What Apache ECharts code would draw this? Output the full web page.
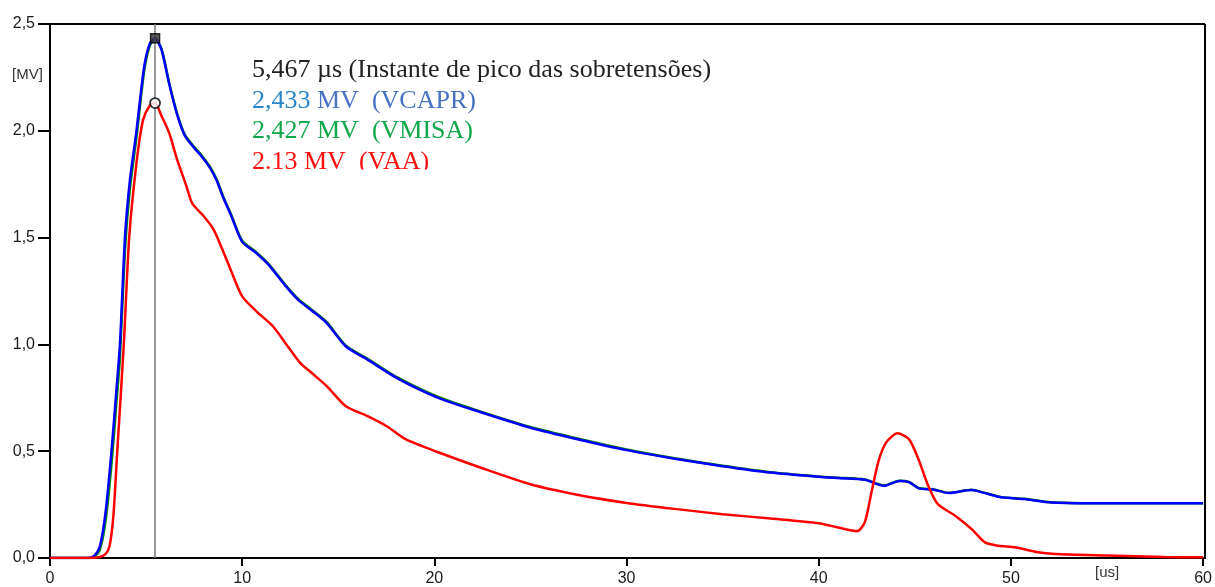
<!DOCTYPE html>
<html>
<head>
<meta charset="utf-8">
<script src="https://cdn.jsdelivr.net/npm/echarts@6/dist/echarts.min.js"></script>
<style>
  html, body { margin: 0; padding: 0; background: #fff; }
  #chart { width: 1215px; height: 587px; }
</style>
</head>
<body>
<div id="chart"></div>
<script>
// tempo [us] e tensões [MV]
const tBlue = [0, 1, 2, 2.3, 2.6, 2.9, 3.2, 3.45, 3.64, 3.9, 4.16, 4.5, 4.9, 5.2, 5.467, 5.8, 6.2, 6.6, 7.0, 7.5, 7.8, 8.3, 8.66, 9.0, 9.44, 10.0, 10.7, 11.4, 12.2, 12.9, 13.6, 14.4, 15.4, 16.5, 18.1, 20.2, 22.5, 25, 27.5, 30, 32.5, 35, 37.5, 40, 41, 42.4, 43.4, 44.2, 44.7, 45.2, 46, 46.75, 47.95, 48.6, 49.5, 50.7, 52.1, 55.2, 60]
const vCAPR = [0, 0, 0, 0.01, 0.056, 0.22, 0.5, 0.78, 1.0, 1.5, 1.77, 2.0, 2.3, 2.41, 2.433, 2.38, 2.22, 2.08, 1.98, 1.92, 1.89, 1.83, 1.77, 1.69, 1.6, 1.48, 1.43, 1.37, 1.28, 1.21, 1.16, 1.1, 0.99, 0.93, 0.84, 0.75, 0.68, 0.61, 0.555, 0.505, 0.465, 0.43, 0.4, 0.38, 0.374, 0.366, 0.338, 0.361, 0.355, 0.326, 0.32, 0.304, 0.318, 0.305, 0.284, 0.276, 0.26, 0.256, 0.256]
const vMISA = [0, 0, 0, 0.006, 0.04, 0.18, 0.44, 0.72, 0.94, 1.44, 1.73, 1.97, 2.28, 2.4, 2.427, 2.385, 2.225, 2.085, 1.985, 1.925, 1.895, 1.835, 1.775, 1.695, 1.605, 1.485, 1.434, 1.374, 1.284, 1.214, 1.164, 1.104, 0.994, 0.934, 0.844, 0.754, 0.683, 0.613, 0.558, 0.508, 0.467, 0.432, 0.402, 0.382, 0.376, 0.368, 0.34, 0.362, 0.356, 0.328, 0.321, 0.305, 0.319, 0.306, 0.285, 0.277, 0.261, 0.256, 0.256]

const tRed = [0, 1, 2, 2.6, 2.9, 3.1, 3.3, 3.5, 3.84, 4.12, 4.5, 4.84, 5.2, 5.467, 5.8, 6.2, 6.6, 7.1, 7.4, 8.0, 8.5, 8.9, 9.4, 10.0, 10.8, 11.6, 12.3, 13.0, 13.7, 14.4, 15.4, 16.5, 17.5, 18.5, 20.2, 22.5, 25, 27.5, 30, 32.5, 35, 37.5, 40, 41, 42, 42.4, 42.75, 43.1, 43.5, 44.1, 44.7, 45.2, 45.7, 46.2, 47.1, 47.95, 48.65, 49.35, 50.2, 51.4, 52.3, 55, 58, 60]
const vAA = [0, 0, 0, 0.005, 0.02, 0.056, 0.2, 0.5, 1.0, 1.5, 1.85, 2.05, 2.12, 2.13, 2.07, 1.99, 1.87, 1.74, 1.66, 1.6, 1.54, 1.46, 1.35, 1.225, 1.15, 1.085, 1.0, 0.915, 0.86, 0.805, 0.71, 0.665, 0.618, 0.556, 0.495, 0.42, 0.345, 0.295, 0.258, 0.23, 0.205, 0.185, 0.163, 0.143, 0.126, 0.168, 0.31, 0.45, 0.54, 0.584, 0.556, 0.46, 0.338, 0.252, 0.198, 0.136, 0.073, 0.057, 0.05, 0.027, 0.019, 0.012, 0.005, 0.003]

const tPico = 5.467
const picoCAPR = 2.433
const picoAA = 2.13

const pairs = (t, v) => t.map((x, i) => [x, v[i]])

const chart = echarts.init(document.getElementById('chart'))

const serif = '26px "Liberation Serif"'

const option = {
  animation: false,
  backgroundColor: '#fff',
  grid: { left: 50, right: 10, top: 24, bottom: 28 },
  xAxis: {
    type: 'value',
    min: 0,
    max: 60,
    interval: 10,
    axisLine: { show: true, onZero: false, lineStyle: { color: '#000', width: 2 } },
    axisTick: { show: true, length: 8, lineStyle: { color: '#000', width: 2 } },
    axisLabel: { color: '#1a1a1a', fontFamily: 'Liberation Sans', fontSize: 16, margin: 13 },
    splitLine: { show: false },
  },
  yAxis: {
    type: 'value',
    min: 0,
    max: 2.5,
    interval: 0.5,
    axisLine: { show: true, lineStyle: { color: '#000', width: 2 } },
    axisTick: { show: true, length: 12, lineStyle: { color: '#000', width: 2 } },
    axisLabel: {
      color: '#1a1a1a',
      fontFamily: 'Liberation Sans',
      fontSize: 16,
      margin: 15,
      formatter: (v) => v.toFixed(1).replace('.', ','),
    },
    splitLine: { show: false },
  },
  graphic: [
    // moldura superior e direita
    { type: 'line', z: 3, shape: { x1: 50, y1: 24, x2: 1205, y2: 24 }, style: { stroke: '#000', lineWidth: 2 } },
    { type: 'line', z: 3, shape: { x1: 1205, y1: 24, x2: 1205, y2: 559 }, style: { stroke: '#000', lineWidth: 2 } },
    { type: 'text', x: 12, y: 75, style: { text: '[MV]', font: '15px "Liberation Sans"', fill: '#333', textVerticalAlign: 'middle' } },
    { type: 'text', x: 1095, y: 573, style: { text: '[us]', font: '15px "Liberation Sans"', fill: '#333', textVerticalAlign: 'middle' } },
    {
      type: 'text', x: 252, y: 70, z: 0,
      style: { text: '5,467 µs (Instante de pico das sobretensões)', font: serif, fill: '#222', textVerticalAlign: 'middle' },
    },
    {
      type: 'text', x: 252, y: 101, z: 0,
      style: {
        text: '{a|2,433 }{b|MV  (VCAPR)}',
        textVerticalAlign: 'middle',
        rich: {
          a: { font: serif, fill: '#2b84c6', color: '#2b84c6' },
          b: { font: serif, fill: '#4a72c4', color: '#4a72c4' },
        },
      },
    },
    {
      type: 'text', x: 252, y: 131, z: 0,
      style: { text: '2,427 MV  (VMISA)', font: serif, fill: '#10a84a', textVerticalAlign: 'middle' },
    },
    {
      type: 'text', x: 252, y: 162, z: 0,
      style: { text: '2.13 MV  (VAA)', font: serif, fill: '#ff1010', textVerticalAlign: 'middle' },
    },
    // a última linha aparece cortada no original
    { type: 'rect', z: 1, shape: { x: 248, y: 169.5, width: 260, height: 16 }, style: { fill: '#fff' } },
  ],
  series: [
    {
      name: 'VMISA',
      type: 'line',
      data: pairs(tBlue, vMISA),
      smooth: 0.25,
      showSymbol: false,
      lineStyle: { color: '#008a00', width: 2.5 },
      markLine: {
        silent: true,
        symbol: 'none',
        label: { show: false },
        lineStyle: { color: '#777', width: 1.5, type: 'solid' },
        data: [{ xAxis: tPico }],
      },
    },
    {
      name: 'VCAPR',
      type: 'line',
      data: pairs(tBlue, vCAPR),
      smooth: 0.25,
      showSymbol: false,
      lineStyle: { color: '#0000ff', width: 2.5 },
    },
    {
      name: 'VAA',
      type: 'line',
      data: pairs(tRed, vAA),
      smooth: 0.25,
      showSymbol: false,
      lineStyle: { color: '#ff0000', width: 2.5 },
    },
    {
      type: 'scatter',
      data: [[tPico, picoCAPR]],
      symbol: 'rect',
      symbolSize: 9,
      z: 5,
      itemStyle: { color: '#333', borderColor: '#000', borderWidth: 1.5 },
    },
    {
      type: 'scatter',
      data: [[tPico, picoAA]],
      symbol: 'circle',
      symbolSize: 10,
      z: 5,
      itemStyle: { color: '#fff', borderColor: '#000', borderWidth: 1.8 },
    },
  ],
}

chart.setOption(option)
</script>
</body>
</html>
